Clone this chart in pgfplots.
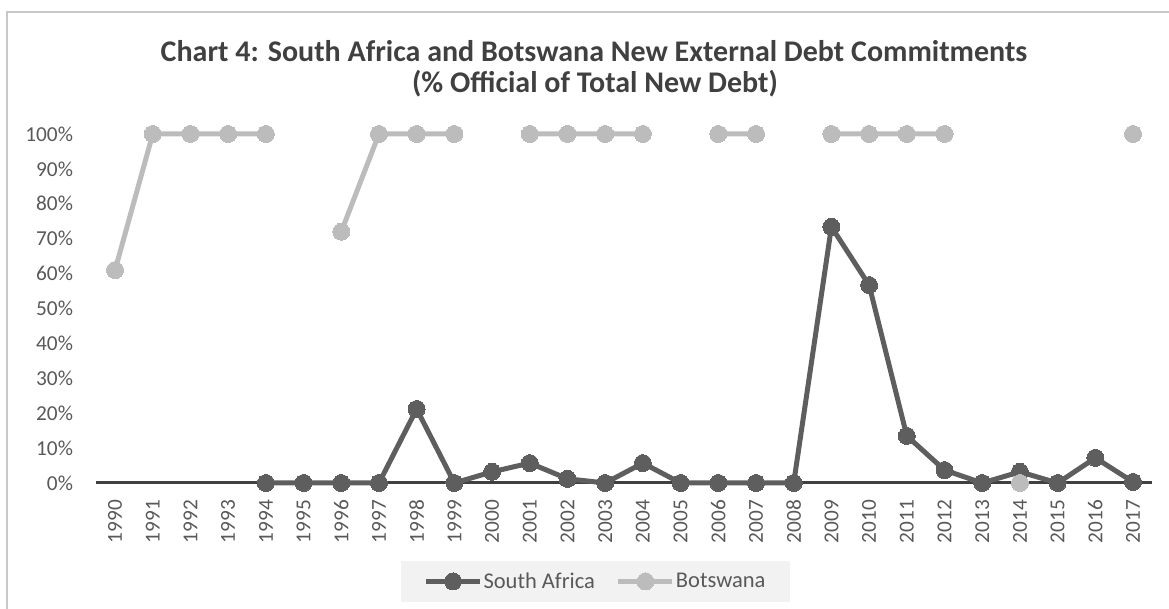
\documentclass[border=0pt]{standalone}
\usepackage{pgfplots}
\pgfplotsset{compat=1.18}
\usepackage{fontspec}
\setmainfont{Carlito}
\definecolor{sacol}{RGB}{94,94,94}
\definecolor{bwcol}{RGB}{188,188,188}
\definecolor{titlecol}{RGB}{64,64,64}
\definecolor{tickcol}{RGB}{89,89,89}
\definecolor{axcol}{RGB}{64,64,64}
\definecolor{framecol}{RGB}{200,200,200}
\definecolor{legfill}{RGB}{242,242,242}
\begin{document}
\begin{tikzpicture}[x=1pt,y=1pt]
\useasboundingbox (0,0) rectangle (1169,609);
\draw[framecol, line width=1.5pt] (7,-30) -- (7,597) -- (1200,597);
\node[anchor=base, font=\fontsize{30}{35}\selectfont\bfseries, text=titlecol, inner sep=0] at (594,547) {Chart 4: South Africa and Botswana New External Debt Commitments};
\node[anchor=base, font=\fontsize{30}{35}\selectfont\bfseries, text=titlecol, inner sep=0] at (595,516) {(\% Official of Total New Debt)};
\begin{axis}[
  at={(96.2pt,126pt)}, anchor=south west,
  scale only axis, width=1055.7pt, height=349pt,
  xmin=1989.5, xmax=2017.5, ymin=0, ymax=100,
  clip=false,
  axis x line*=bottom, axis y line*=left,
  x axis line style={draw=axcol, line width=3pt, -},
  y axis line style={draw=none},
  tick style={draw=none},
  major tick length=0pt,
  xtick={1990,1991,...,2017},
  ytick={0,10,...,100},
  /pgf/number format/.cd, 1000 sep={}, assume math mode=true, /pgfplots/.cd,
  yticklabel={\pgfmathprintnumber{\tick}\%},
  ticklabel style={font=\fontsize{21.3}{25}\selectfont, text=tickcol},
  y tick label style={inner sep=0pt, anchor=east, xshift=-23pt},
  x tick label style={inner sep=0pt, yshift=-17pt, rotate=90, anchor=east},
  unbounded coords=jump,
  legend style={at={(0.4725,-0.282)}, anchor=center, fill=legfill, draw=none,
    font=\fontsize{22.5}{26}\selectfont, text=tickcol,
    inner xsep=23pt, inner ysep=10pt,
    nodes={inner xsep=1pt},
    /tikz/every even column/.append style={column sep=20pt}},
  legend columns=2,
  legend image code/.code={\draw[#1,mark repeat=2,mark phase=2] plot coordinates {(0pt,0pt) (27pt,0pt) (54pt,0pt)};},
]
\addplot[sacol, line width=5pt, mark=*, mark size=8.5pt, mark options={solid, fill=sacol, draw=sacol, line width=0pt}] coordinates {
(1994,0) (1995,0) (1996,0) (1997,0) (1998,21.2) (1999,0) (2000,3.2) (2001,5.7)
(2002,1.2) (2003,0) (2004,5.7) (2005,0) (2006,0) (2007,0) (2008,0)
(2009,73.4) (2010,56.7) (2011,13.5) (2012,3.7) (2013,0) (2014,3.2) (2015,0)
(2016,7.2) (2017,0.3)
};
\addlegendentry{South Africa}
\addplot[bwcol, line width=5pt, mark=*, mark size=8.5pt, mark options={solid, fill=bwcol, draw=bwcol, line width=0pt}] coordinates {
(1990,61) (1991,100) (1992,100) (1993,100) (1994,100) (1995,nan)
(1996,72) (1997,100) (1998,100) (1999,100) (2000,nan)
(2001,100) (2002,100) (2003,100) (2004,100) (2005,nan)
(2006,100) (2007,100) (2008,nan)
(2009,100) (2010,100) (2011,100) (2012,100) (2013,nan)
(2014,0) (2015,nan) (2016,nan) (2017,100)
};
\addlegendentry{Botswana}
\end{axis}
\end{tikzpicture}
\end{document}
